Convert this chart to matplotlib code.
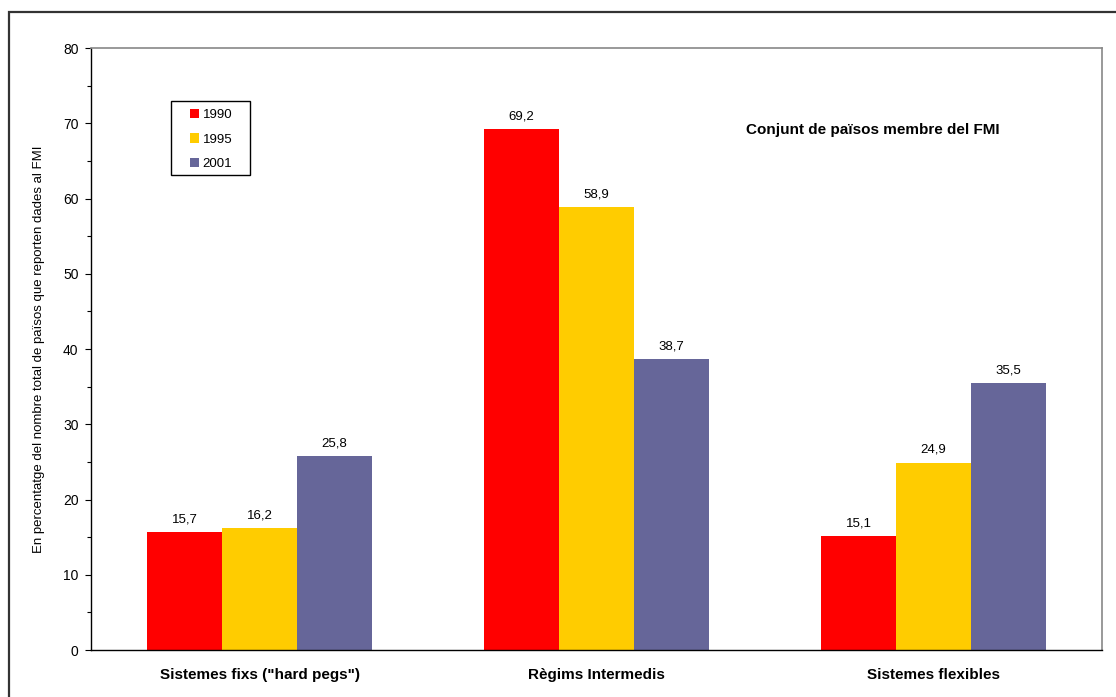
import matplotlib
matplotlib.use("Agg")
import matplotlib.pyplot as plt
from matplotlib.patches import Rectangle, Patch
from matplotlib.ticker import MultipleLocator
import numpy as np

plt.rcParams['font.family'] = ['Liberation Sans', 'DejaVu Sans']

categories = ['Sistemes fixs ("hard pegs")', 'Règims Intermedis', 'Sistemes flexibles']
years = ['1990', '1995', '2001']
values_1990 = [15.7, 69.2, 15.1]
values_1995 = [16.2, 58.9, 24.9]
values_2001 = [25.8, 38.7, 35.5]
colors = ['#FF0000', '#FFCC00', '#666699']

W, H = 1116, 697
fig = plt.figure(figsize=(W / 100, H / 100), dpi=100)


def fig_box(x0, y0, x1, y1):
    """Convert a pixel box (top-left origin) into figure-fraction coords."""
    return (x0 / W, 1 - y1 / H, (x1 - x0) / W, (y1 - y0) / H)


# outer chart frame
fig.patches.append(Rectangle((9 / W, -0.05), 1.2, 1 - 12 / H + 0.05,
                             transform=fig.transFigure, fill=False,
                             edgecolor='#333333', linewidth=1.6))

left, right, top, bottom = 91, 1102, 48, 650
ax = fig.add_axes(fig_box(left, top, right, bottom))

x = np.arange(len(categories))
bw = 0.2225
series = [values_1990, values_1995, values_2001]
for i, (vals, col, yr) in enumerate(zip(series, colors, years)):
    pos = x + (i - 1) * bw
    bars = ax.bar(pos, vals, width=bw, color=col, edgecolor='none', label=yr)
    for b, v in zip(bars, vals):
        ax.text(b.get_x() + b.get_width() / 2, v + 0.9, f"{v:.1f}".replace('.', ','),
                ha='center', va='bottom', fontsize=9.5)

ax.set_xlim(-0.5, 2.5)
ax.set_ylim(0, 80)
ax.yaxis.set_major_locator(MultipleLocator(10))
ax.yaxis.set_minor_locator(MultipleLocator(5))
ax.tick_params(axis='y', which='major', length=4, labelsize=10, direction='out', width=0.8, pad=5)
ax.tick_params(axis='y', which='minor', length=3, direction='out', width=0.8)
ax.set_xticks(x)
ax.set_xticklabels(categories, fontsize=11, fontweight='bold')
ax.tick_params(axis='x', length=0, pad=13)

for s in ['top', 'right']:
    ax.spines[s].set_color('#888888')
    ax.spines[s].set_linewidth(1.2)
for s in ['left', 'bottom']:
    ax.spines[s].set_color('black')
    ax.spines[s].set_linewidth(1.0)

ax.set_ylabel('En percentatge del nombre total de països que reporten dades al FMI',
              fontsize=9.5, labelpad=13)

# legend box drawn separately so the horizontal padding can exceed the vertical one
fig.patches.append(Rectangle(fig_box(171, 101, 250, 175)[:2], *fig_box(171, 101, 250, 175)[2:],
                             transform=fig.transFigure, fill=True, facecolor='white',
                             edgecolor='black', linewidth=1.0, zorder=5))
handles = [Patch(facecolor=c, edgecolor='none', label=y) for c, y in zip(colors, years)]
leg = fig.legend(handles=handles, loc='center',
                 bbox_to_anchor=(211 / W, 1 - 139.5 / H),
                 fontsize=9.5, frameon=False,
                 handlelength=0.7, handleheight=0.7, handletextpad=0.3,
                 labelspacing=0.95, borderpad=0, borderaxespad=0)
leg.set_zorder(6)

fig.text(873 / W, 1 - 130 / H, 'Conjunt de països membre del FMI',
         ha='center', va='center', fontsize=11, fontweight='bold')

fig.savefig('out.png', dpi=100)
